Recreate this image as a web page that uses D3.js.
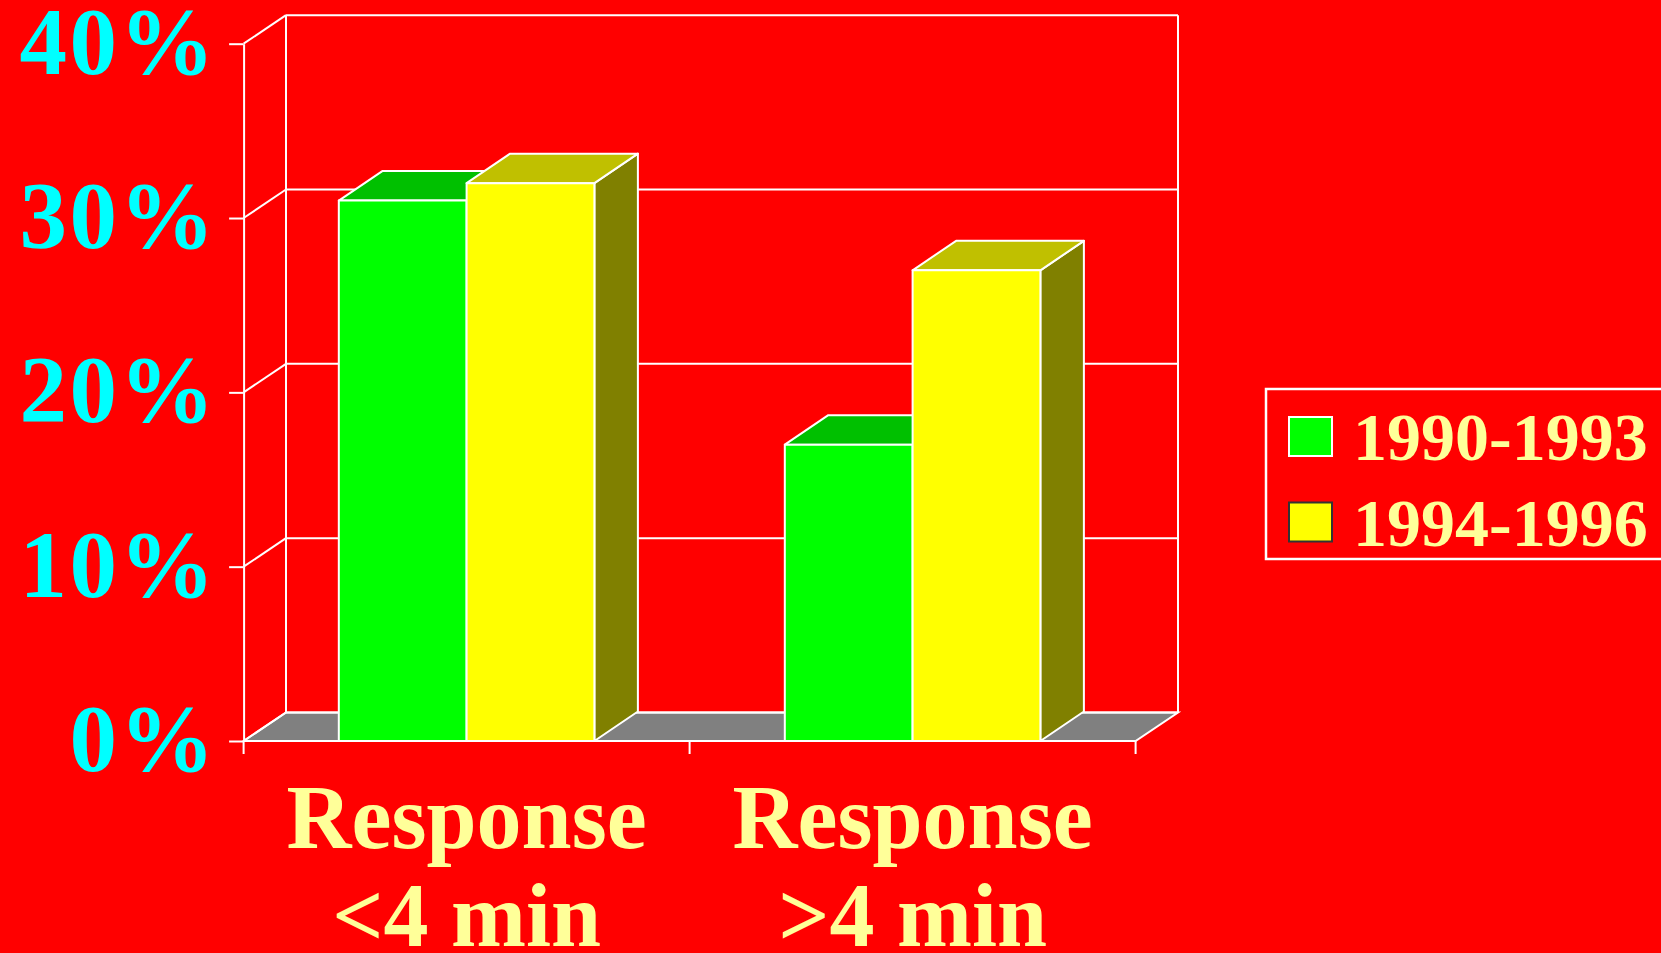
<!DOCTYPE html>
<html>
<head>
<meta charset="utf-8">
<script src="https://cdn.jsdelivr.net/npm/d3@7"></script>
<style>
  html, body { margin: 0; padding: 0; background: #ff0000; overflow: hidden; }
  text { font-family: "Times New Roman", "Liberation Serif", serif; font-weight: bold; }
</style>
</head>
<body>
<div id="chart"></div>
<script>
// data
categories = ["Response <4 min", "Response >4 min"]
catLines = [["Response", "<4 min"], ["Response", ">4 min"]]
series = ["1990-1993", "1994-1996"]
values1990 = [31, 17]
values1994 = [32, 27]
yTicks = [0, 10, 20, 30, 40]

// colours per series: front, top, side
front = ["#00ff00", "#ffff00"]
top_ = ["#00c000", "#c0c000"]
side = ["#008000", "#808000"]

width = 1661
height = 953

// wall depth and bar depth (pseudo 3d)
wall = {dx: 42.4, dy: 28.5}
bar = {dx: 43.5, dy: 29.5}

svg = d3.select("#chart").append("svg")
    .attr("width", width)
    .attr("height", height)

svg.append("rect").attr("width", width).attr("height", height).attr("fill", "#ff0000")

y = d3.scaleLinear().domain([0, 40]).range([741, 43.7])

x0 = d3.scaleBand().domain(categories).range([243.6, 1135.6])
x1 = d3.scaleBand().domain(series).range([0, x0.bandwidth()]).paddingOuter(0.745)

const y0 = y(0)
const xL = x0.range()[0], xR = x0.range()[1]

// floor
svg.append("path")
    .attr("d", `M${xL},${y0}L${xR},${y0}L${xR + wall.dx},${y0 - wall.dy}L${xL + wall.dx},${y0 - wall.dy}Z`)
    .attr("fill", "#808080")
    .attr("stroke", "white")
    .attr("stroke-width", 2)

// back wall gridlines + left wall diagonals
const grid = svg.append("g").attr("stroke", "white").attr("stroke-width", 2).attr("fill", "none")
yTicks.forEach(t => {
    grid.append("line")
        .attr("x1", xL + wall.dx).attr("x2", xR + wall.dx)
        .attr("y1", y(t) - wall.dy).attr("y2", y(t) - wall.dy)
    grid.append("line")
        .attr("x1", xL).attr("x2", xL + wall.dx)
        .attr("y1", y(t)).attr("y2", y(t) - wall.dy)
})
// back-left and back-right verticals
grid.append("line")
    .attr("x1", xL + wall.dx).attr("x2", xL + wall.dx)
    .attr("y1", y(40) - wall.dy).attr("y2", y0 - wall.dy)
grid.append("line")
    .attr("x1", xR + wall.dx).attr("x2", xR + wall.dx)
    .attr("y1", y(40) - wall.dy).attr("y2", y0 - wall.dy)

// bars
const data = categories.map((c, i) => ({cat: c, vals: [values1990[i], values1994[i]]}))

data.forEach(d => {
    const g = svg.append("g").attr("stroke", "white").attr("stroke-width", 2).attr("stroke-linejoin", "round")
    d.vals.forEach((v, si) => {
        const bx = x0(d.cat) + x1(series[si])
        const w = x1.bandwidth()
        const yv = y(v)
        // side
        g.append("path")
            .attr("d", `M${bx + w},${yv}L${bx + w + bar.dx},${yv - bar.dy}L${bx + w + bar.dx},${y0 - bar.dy}L${bx + w},${y0}Z`)
            .attr("fill", side[si])
        // top
        g.append("path")
            .attr("d", `M${bx},${yv}L${bx + bar.dx},${yv - bar.dy}L${bx + w + bar.dx},${yv - bar.dy}L${bx + w},${yv}Z`)
            .attr("fill", top_[si])
        // front
        g.append("rect")
            .attr("x", bx).attr("y", yv)
            .attr("width", w).attr("height", y0 - yv)
            .attr("fill", front[si])
    })
})

// front floor edge
svg.append("line")
    .attr("x1", xL).attr("x2", xR)
    .attr("y1", y0).attr("y2", y0)
    .attr("stroke", "white").attr("stroke-width", 2)

// x ticks at band boundaries
const bounds = categories.map(c => x0(c)).concat([xR])
svg.append("g").selectAll("line").data(bounds).join("line")
    .attr("x1", d => d).attr("x2", d => d)
    .attr("y1", y0).attr("y2", y0 + 13)
    .attr("stroke", "white").attr("stroke-width", 2)

// y axis
const yaxis = d3.axisLeft(y)
    .tickValues(yTicks)
    .tickSizeInner(14.5)
    .tickSizeOuter(0)
    .tickPadding(12)
    .tickFormat(d => d + "%")

svg.append("g")
    .attr("transform", `translate(${xL},0)`)
    .call(yaxis)
    .call(g => g.select(".domain").attr("stroke", "white").attr("stroke-width", 2))
    .call(g => g.selectAll(".tick line").attr("stroke", "white").attr("stroke-width", 2))
    .call(g => g.selectAll(".tick text")
        .attr("fill", "#00ffff")
        .attr("font-size", 95)
        .attr("letter-spacing", 2.5)
        .attr("dy", "0.31em")
        .attr("font-family", "'Times New Roman', 'Liberation Serif', serif")
        .attr("font-weight", "bold"))

// category labels
data.forEach((d, i) => {
    const t = svg.append("text")
        .attr("text-anchor", "middle")
        .attr("fill", "#ffff99")
        .attr("font-size", 90)
    catLines[i].forEach((line, li) => {
        t.append("tspan")
            .attr("x", x0(d.cat) + x0.bandwidth() / 2)
            .attr("y", 848 + li * 98)
            .text(line)
    })
})

// legend
const legend = svg.append("g")
legend.append("rect")
    .attr("x", 1266).attr("y", 389)
    .attr("width", 420).attr("height", 170)
    .attr("fill", "none").attr("stroke", "white").attr("stroke-width", 2.5)

series.forEach((s, i) => {
    legend.append("rect")
        .attr("x", 1289).attr("y", 417 + i * 85.5)
        .attr("width", 43).attr("height", 39)
        .attr("fill", front[i])
        .attr("stroke", i === 0 ? "white" : "#333")
        .attr("stroke-width", 2)
    legend.append("text")
        .attr("x", 1353).attr("y", 460 + i * 85.5)
        .attr("fill", "#ffff99")
        .attr("font-size", 68)
        .text(s)
})
</script>
</body>
</html>
